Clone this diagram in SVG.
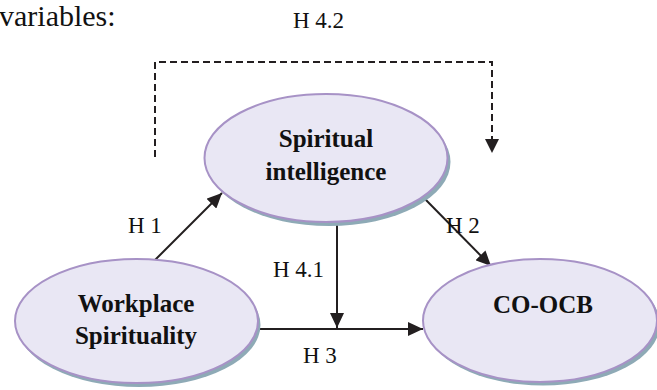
<svg xmlns="http://www.w3.org/2000/svg" width="657" height="390" viewBox="0 0 657 390">
  <defs>
    <style>
      .shadow { fill: #8eaab6; stroke: none; }
      .node { fill: #e9e7f4; stroke: #a792c6; stroke-width: 2; }
      .label { font-family: "Liberation Serif", "Times New Roman", serif; font-size: 23px; fill: #111; }
      .title { font-family: "Liberation Serif", "Times New Roman", serif; font-size: 25px; font-weight: bold; fill: #111; text-anchor: middle; }
      .edge { fill: none; stroke: #231f20; stroke-width: 2; }
      .dashed { fill: none; stroke: #231f20; stroke-width: 2; stroke-dasharray: 7 4; }
    </style>
    <marker id="arrow" viewBox="0 0 15 14" refX="15" refY="7" markerWidth="15" markerHeight="14" markerUnits="userSpaceOnUse" orient="auto">
      <path d="M0,0 L15,7 L0,14 z" fill="#231f20"/>
    </marker>
  </defs>

  <text x="-1" y="26" font-family="'Liberation Serif', 'Times New Roman', serif" font-size="30" fill="#111">variables:</text>

  <g id="connectors">
    <path id="h42" class="dashed" d="M155,157 V62 H492 V140" />
    <path d="M485,139 L499,139 L492,153 z" fill="#231f20"/>
    <line id="h1" class="edge" x1="155" y1="260" x2="222" y2="193" marker-end="url(#arrow)"/>
    <line id="h2" class="edge" x1="424" y1="198" x2="491" y2="266" marker-end="url(#arrow)"/>
    <line id="h41" class="edge" x1="337" y1="222" x2="337" y2="328" marker-end="url(#arrow)"/>
    <line id="h3" class="edge" x1="257" y1="329" x2="423" y2="329" marker-end="url(#arrow)"/>
  </g>

  <g id="node-spiritual-intelligence">
    <ellipse class="shadow" cx="329" cy="162" rx="121.5" ry="64"/>
    <ellipse class="node" cx="326" cy="158" rx="121.5" ry="64"/>
    <text class="title" x="326" y="147">Spiritual</text>
    <text class="title" x="326" y="180">intelligence</text>
  </g>

  <g id="node-workplace-spirituality">
    <ellipse class="shadow" cx="139" cy="325" rx="121.5" ry="62"/>
    <ellipse class="node" cx="136.5" cy="321" rx="121.5" ry="62"/>
    <text class="title" x="136" y="312">Workplace</text>
    <text class="title" x="136" y="344">Spirituality</text>
  </g>

  <g id="node-co-ocb">
    <ellipse class="shadow" cx="543" cy="324" rx="117" ry="61.5"/>
    <ellipse class="node" cx="540" cy="320.5" rx="117" ry="61.5"/>
    <text class="title" x="543" y="313">CO-OCB</text>
  </g>

  <g id="edge-labels">
    <text class="label" x="293" y="28">H 4.2</text>
    <text class="label" x="128" y="233">H 1</text>
    <text class="label" x="446" y="233">H 2</text>
    <text class="label" x="273" y="277">H 4.1</text>
    <text class="label" x="303" y="363">H 3</text>
  </g>
</svg>
